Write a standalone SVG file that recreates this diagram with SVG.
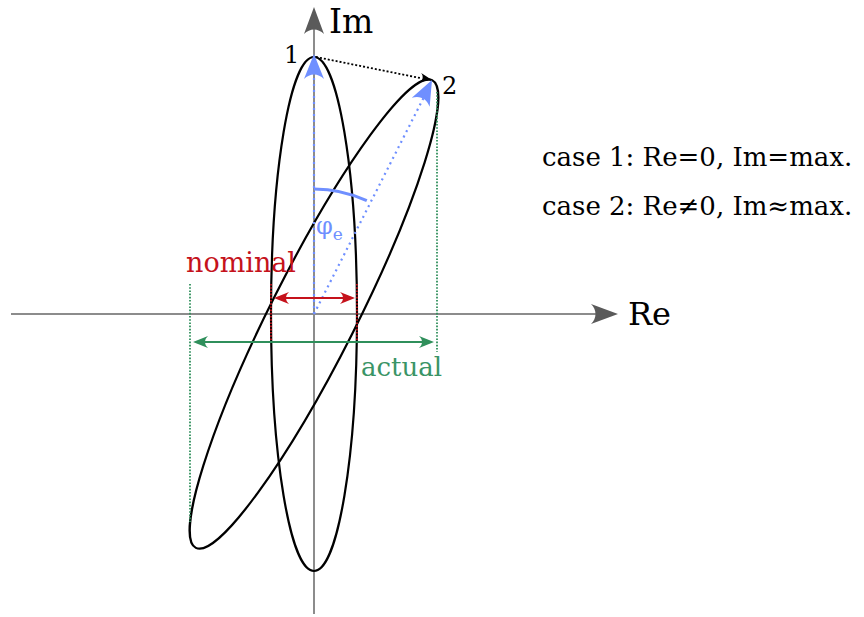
<svg xmlns="http://www.w3.org/2000/svg" width="864" height="617" viewBox="0 0 864 617">
<style>
text{font-family:"DejaVu Serif","Liberation Serif",serif;}
.axis{stroke:#8c8c8c;stroke-width:2;fill:none}
.ell{stroke:#000;stroke-width:2.2;fill:none}
.bdot{stroke:#6f8fff;stroke-width:2.2;stroke-dasharray:2,4;fill:none}
.gdot{stroke:#2f8f5b;stroke-width:1.8;stroke-dasharray:1.6,1.6;fill:none}
.rdot{stroke:#c5121b;stroke-width:1.8;stroke-dasharray:1.6,1.6;fill:none}
.kdot{stroke:#000;stroke-width:1.8;stroke-dasharray:2,2;fill:none}
</style>
<defs>
<path id="bigHead" d="M0,0 L-27,-10 C-21,-4 -21,4 -27,10 Z"/>
<path id="blueHead" d="M0,0 L-25,-10 C-19,-4 -19,4 -25,10 Z"/>
<path id="smallHead" d="M0,0 L-15,-6 C-11,-2.5 -11,2.5 -15,6 Z"/>
</defs>

<g id="axes">
<line class="axis" x1="11" y1="314" x2="600" y2="314"/>
<line class="axis" x1="314" y1="614" x2="314" y2="25"/>
<use href="#bigHead" fill="#5a5a5a" transform="translate(618,314)"/>
<use href="#bigHead" fill="#5a5a5a" transform="translate(314,7) rotate(-90)"/>
<text x="329" y="33" font-size="33">Im</text>
<text x="628" y="325" font-size="32">Re</text>
</g>

<g id="ellipse-nominal">
<ellipse class="ell" cx="314" cy="314" rx="43" ry="257"/>
</g>
<g id="ellipse-actual">
<ellipse class="ell" cx="0" cy="0" rx="262" ry="43" transform="translate(314,314) rotate(-63.2)"/>
</g>

<g id="guides">
<line class="gdot" x1="190" y1="284" x2="190" y2="522"/>
<line class="gdot" x1="437" y1="92" x2="437" y2="352"/>
<line class="rdot" x1="271" y1="284" x2="271" y2="342"/>
<line class="rdot" x1="357" y1="284" x2="357" y2="342"/>
</g>

<g id="connectors">
<line class="bdot" x1="314" y1="314" x2="314" y2="70"/>
<use href="#blueHead" fill="#6f8fff" transform="translate(314,54) rotate(-90)"/>
<line class="bdot" x1="314" y1="314" x2="425" y2="95"/>
<use href="#blueHead" fill="#6f8fff" transform="translate(432,80) rotate(-63.2)"/>
<line class="kdot" x1="316" y1="57" x2="420" y2="78"/>
<use href="#smallHead" fill="#000" transform="translate(432,80) rotate(11.3) scale(0.8)"/>
<path d="M314,189 A125,125 0 0 1 366.8,200.7" stroke="#6f8fff" stroke-width="3" fill="none"/>
<line x1="285" y1="298" x2="344" y2="298" stroke="#c5121b" stroke-width="2"/>
<use href="#smallHead" fill="#c5121b" transform="translate(274,298) rotate(180)"/>
<use href="#smallHead" fill="#c5121b" transform="translate(355,298)"/>
<line x1="203" y1="342" x2="424" y2="342" stroke="#2f8f5b" stroke-width="2"/>
<use href="#smallHead" fill="#2f8f5b" transform="translate(193,342) rotate(180)"/>
<use href="#smallHead" fill="#2f8f5b" transform="translate(434,342)"/>
</g>

<g id="labels">
<text x="284" y="63" font-size="24">1</text>
<text x="442" y="94" font-size="24">2</text>
<text x="316" y="234" font-size="24" fill="#6f8fff">φ<tspan font-size="17" dy="6">e</tspan></text>
<text x="186" y="272" font-size="27" fill="#c5121b">nominal</text>
<text x="361" y="376" font-size="26" fill="#3a9466">actual</text>
<text x="542" y="166" font-size="26">case 1: Re=0, Im=max.</text>
<text x="542" y="215" font-size="26">case 2: Re≠0, Im≈max.</text>
</g>
</svg>
